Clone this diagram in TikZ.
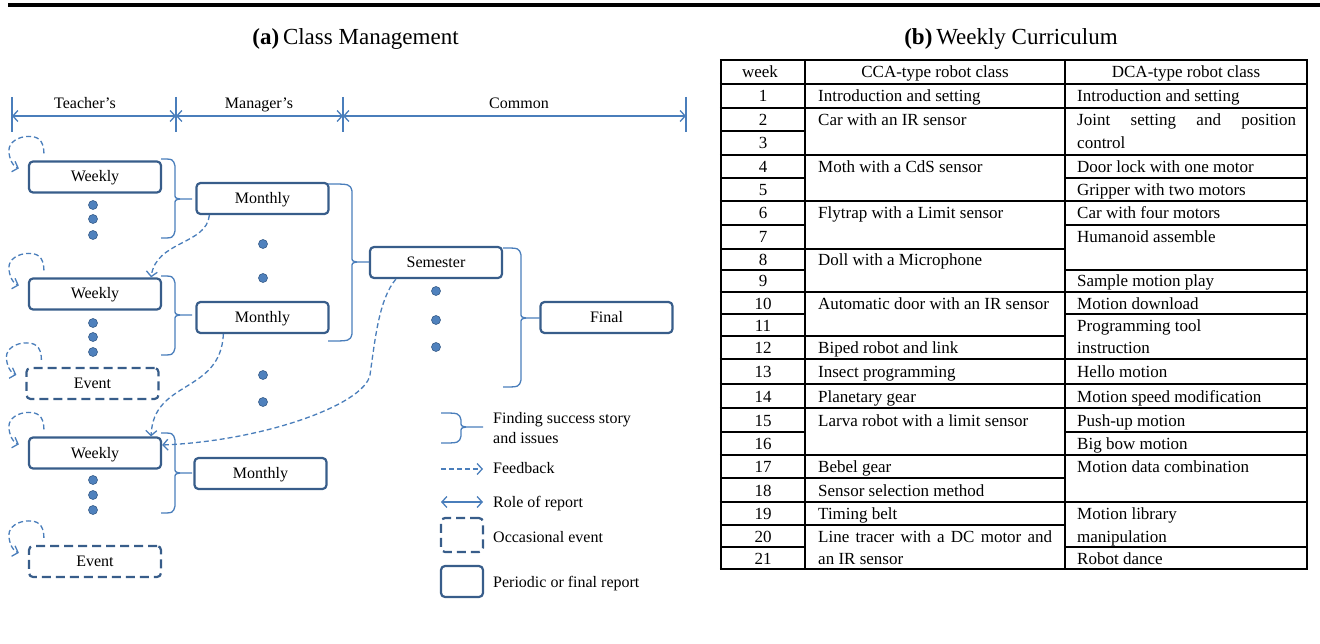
\documentclass[tikz,border=0pt]{standalone}
\usepackage{fontspec}
\setmainfont{Liberation Serif}
\usetikzlibrary{arrows.meta,calc}
\definecolor{boxblue}{HTML}{385D8A}
\definecolor{lineblue}{HTML}{4A7EBB}
\definecolor{dotblue}{HTML}{4F81BD}
\newcommand\diagfont{\fontsize{16}{19}\selectfont}
\newcommand\tabfont{\fontsize{17}{20}\selectfont}
\newcommand\headfont{\fontsize{23}{27}\selectfont}

% right curly brace: #1 open end x, #2 spine x, #3 tip x, #4 top y, #5 middle y, #6 bottom y
\newcommand\sidebrace[6]{%
  \draw[bracestyle] (#1,#4) .. controls (#2-2,#4) .. (#2,#4+7) -- (#2,#5-5)
        .. controls (#2,#5-1) .. (#2+5,#5) -- (#3,#5);
  \draw[bracestyle] (#1,#6) .. controls (#2-2,#6) .. (#2,#6-7) -- (#2,#5+5)
        .. controls (#2,#5+1) .. (#2+5,#5);
}
% dashed self-feedback loop over the top-left corner of a report box
\newcommand\selfloop[1]{%
  \begin{scope}[shift={(#1.north west)}]
    \draw[fb] (16,-7) .. controls (16,-22) and (8,-24) .. (1,-24)
      .. controls (-10,-24) and (-19,-18) .. (-19,-10)
      .. controls (-19,-2) and (-15,6) .. (-9,8);
  \end{scope}}

\begin{document}
\begin{tikzpicture}[x=1pt,y=-1pt,
  report/.style={draw=boxblue, line width=2.2pt, rounded corners=4pt,
    minimum width=132pt, minimum height=31pt, inner sep=0pt,
    text height=12pt, text depth=2pt, font=\diagfont},
  event/.style={report, dash pattern=on 9pt off 5pt},
  dot/.style={circle, fill=dotblue, draw=boxblue, line width=0.6pt,
    minimum size=9pt, inner sep=0pt},
  bracestyle/.style={draw=lineblue, line width=1.3pt},
  fb/.style={lineblue, line width=1.3pt, dash pattern=on 5pt off 3pt,
    -{Straight Barb[length=5pt,width=11pt]}},
  role/.style={lineblue, line width=1.3pt,
    {Straight Barb[length=5pt,width=11pt]}-{Straight Barb[length=5pt,width=11pt]}},
  tick/.style={lineblue, line width=1.3pt},
  lbl/.style={font=\diagfont, inner sep=0pt, anchor=base},
  legtxt/.style={font=\diagfont, inner sep=0pt, anchor=base west},
  ttl/.style={font=\headfont, inner sep=0pt, anchor=base},
  grid/.style={line width=2.5pt, black},
  wk/.style={font=\tabfont, inner sep=0pt, anchor=base},
  cell/.style={font=\tabfont, inner sep=0pt, anchor=base west},
]
\useasboundingbox (0,0) rectangle (1320,644);

% rule across the top
\draw[line width=3.5pt] (8,5) -- (1320,5);

% ---------------- (a) Class Management ----------------
\node[ttl] (titleA) at (355.5,45) {\textbf{(a)}\,Class Management};

% role ranges
\foreach \n/\x in {t1/12, t2/176, t3/343, t4/686} {
  \coordinate (\n a) at (\x,97);
  \coordinate (\n b) at (\x,132);
  \coordinate (\n) at (\x,116);
  \draw[tick] (\n a) -- (\n b);
}
\draw[role] (t1) -- (t2);
\draw[role] (t2) -- (t3);
\draw[role] (t3) -- (t4);
\node[lbl] (teacher) at (85,108.5) {Teacher's};
\node[lbl] (manager) at (259,108.5) {Manager's};
\node[lbl] (common) at (519,108.5) {Common};

% reports
\node[report] (w1) at (95,177) {Weekly};
\node[report] (w2) at (95,294) {Weekly};
\node[report] (w3) at (95,453) {Weekly};
\node[event]  (e1) at (92.5,383.5) {Event};
\node[event]  (e2) at (95,561.5) {Event};
\node[report] (m1) at (262.5,198.5) {Monthly};
\node[report] (m2) at (262.5,317.5) {Monthly};
\node[report] (m3) at (260.5,473.5) {Monthly};
\node[report] (sem) at (436,262.5) {Semester};
\node[report] (fin) at (606.5,317.5) {Final};

% continuation dots
\foreach \n/\x/\y in {a1/93/205, a2/93/219, a3/93/235,
                      b1/93/323, b2/93/337, b3/93/352,
                      c1/93/480, c2/93/495, c3/93/510,
                      m1d/263/244, m2d/263/278, m3d/263/375, m4d/263/402,
                      s1/436/291, s2/436/320, s3/436/347}
  \node[dot] (dot\n) at (\x,\y) {};

% summaries
\sidebrace{161}{175}{192}{159}{199}{238}
\sidebrace{161}{175}{192}{276}{315}{355}
\sidebrace{161}{175}{192}{433}{473}{513}
\sidebrace{328}{352}{369}{184}{262}{341}
\sidebrace{503}{521}{540}{248}{318}{387}

% feedback
\selfloop{w1}
\selfloop{w2}
\selfloop{e1}
\selfloop{w3}
\selfloop{e2}
\draw[fb] ([xshift=14pt]m1.south west) .. controls +(-3,30) and +(5,-37) .. ([xshift=-11pt]w2.north east);
\draw[fb] ([xshift=28pt]m2.south west) .. controls +(-3,60) and +(2,-57) .. ([xshift=-11pt]w3.north east);
\coordinate (bend) at (370,375);
\draw[fb] ([xshift=27pt]sem.south west) .. controls +(-17,20) and +(5,-35) .. (bend)
  .. controls +(-6,30) and +(100,-4) .. ([yshift=8pt]w3.east);

% legend
\sidebrace{441}{461}{483}{413}{427}{443}
\node[legtxt] (lg1) at (493,423.5) {Finding success story};
\node[legtxt] (lg2) at (493,443.5) {and issues};
\coordinate (lf1) at (441,469);
\coordinate (lf2) at (483,469);
\draw[fb] (lf1) -- (lf2);
\node[legtxt] (lg3) at (493,473.5) {Feedback};
\coordinate (lr1) at (441,502);
\coordinate (lr2) at (483,502);
\draw[role] (lr1) -- (lr2);
\node[legtxt] (lg4) at (493,507.5) {Role of report};
\node[event, minimum width=42pt, minimum height=34pt] (legev) at (462,535) {};
\node[legtxt] (lg5) at (493,542.5) {Occasional event};
\node[report, minimum width=42pt, minimum height=31pt] (legrep) at (462,581.5) {};
\node[legtxt] (lg6) at (493,587.5) {Periodic or final report};

% ---------------- (b) Weekly Curriculum ----------------
\node[ttl] (titleB) at (1011,45) {\textbf{(b)}\,Weekly Curriculum};

% table rules
\def\xa{721}\def\xb{805}\def\xc{1065}\def\xd{1307}
\foreach \x in {\xa,\xb,\xc,\xd}
  \draw[grid] (\x,60) -- (\x,569);
\foreach \y in {60,84,108,155,201,292,359,384,408,455,502,569}
  \draw[grid] (\xa-1.25,\y) -- (\xd+1.25,\y);
\draw[grid] (\xa,131) -- (\xb,131);
\foreach \y in {178,225,270,314,432,547} {
  \draw[grid] (\xa,\y) -- (\xb,\y);
  \draw[grid] (\xc,\y) -- (\xd,\y);
}
\foreach \y in {249,336,478,525}
  \draw[grid] (\xa,\y) -- (\xc,\y);

% header
\node[wk] (hw) at (760,78) {week};
\node[wk] (hc) at (935,78) {CCA-type robot class};
\node[wk] (hd) at (1186,78) {DCA-type robot class};

% week numbers
\foreach \k/\y in {1/96, 2/119.5, 3/143, 4/166.5, 5/189.5, 6/213, 7/237,
                   8/259.5, 9/281, 10/303, 11/325, 12/347.5, 13/371.5,
                   14/396, 15/420, 16/443.5, 17/466.5, 18/490, 19/513.5,
                   20/536, 21/558}
  \node[wk] (wk\k) at (763,\y+6) {\k};

% CCA-type robot class
\foreach \k/\y/\t in {1/96/Introduction and setting,
                      2/119.5/Car with an IR sensor,
                      4/166.5/Moth with a CdS sensor,
                      6/213/Flytrap with a Limit sensor,
                      8/259.5/Doll with a Microphone,
                      10/303/Automatic door with an IR sensor,
                      12/347.5/Biped robot and link,
                      13/371.5/Insect programming,
                      14/396/Planetary gear,
                      15/420/Larva robot with a limit sensor,
                      17/466.5/Bebel gear,
                      18/490/Sensor selection method,
                      19/513.5/Timing belt,
                      21/558/an IR sensor}
  \node[cell] (cca\k) at (818,\y+6) {\t};
\node[cell] (cca20) at (818,542) {\hbox to 234pt{Line\hfil\ tracer\hfil\ with\hfil\ a\hfil\ DC\hfil\ motor\hfil\ and}};

% DCA-type robot class
\foreach \k/\y/\t in {1/96/Introduction and setting,
                      3/143/control,
                      4/166.5/Door lock with one motor,
                      5/189.5/Gripper with two motors,
                      6/213/Car with four motors,
                      7/237/Humanoid assemble,
                      9/281/Sample motion play,
                      10/303/Motion download,
                      11/325/Programming tool,
                      12/347.5/instruction,
                      13/371.5/Hello motion,
                      14/396/Motion speed modification,
                      15/420/Push-up motion,
                      16/443.5/Big bow motion,
                      17/466.5/Motion data combination,
                      19/513.5/Motion library,
                      20/536/manipulation,
                      21/558/Robot dance}
  \node[cell] (dca\k) at (1077,\y+6) {\t};
\node[cell] (dca2) at (1077,125.5) {\hbox to 219pt{Joint\hfil\ setting\hfil\ and\hfil\ position}};
\end{tikzpicture}
\end{document}
